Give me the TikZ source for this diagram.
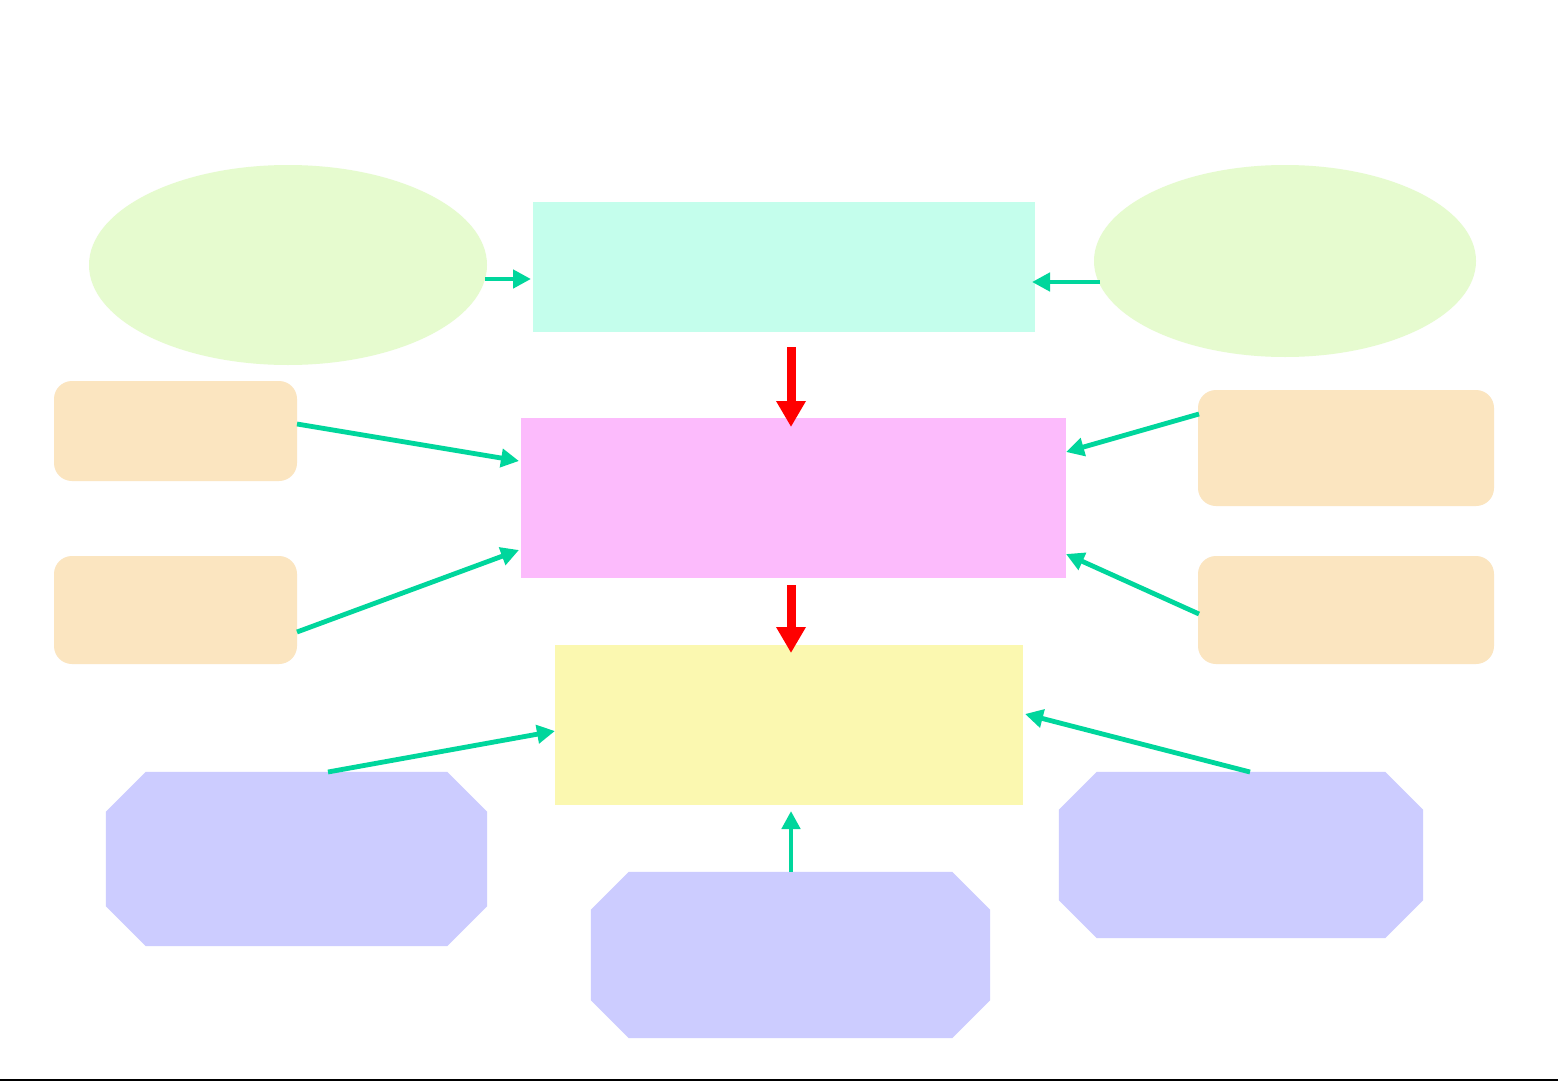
\documentclass[tikz,border=0pt]{standalone}
\usetikzlibrary{shapes.geometric,arrows.meta}
\definecolor{ellc}{HTML}{E6FBCF}
\definecolor{topc}{HTML}{C4FEEC}
\definecolor{midc}{HTML}{FCBBFC}
\definecolor{lowc}{HTML}{FBF8B0}
\definecolor{orc}{HTML}{FBE5C0}
\definecolor{octc}{HTML}{CCCCFF}
\definecolor{teal}{HTML}{00D69C}
\definecolor{redc}{HTML}{FF0000}
\tikzset{
  ell/.style={ellipse, fill=ellc, draw=none, inner sep=0pt},
  box/.style={rectangle, draw=none, inner sep=0pt},
  rbox/.style={rounded corners=18pt, fill=orc, draw=none, inner sep=0pt},
  octfill/.style={fill=octc, draw=none},
  conn/.style={draw=teal, line width=4.8pt, -{Triangle[length=18pt,width=18pt]}},
  main/.style={draw=redc, line width=9pt, -{Triangle[length=26pt,width=28pt]}},
}
\newcommand{\octpath}[2]{%
  \fill[octfill] ([xshift=#2]#1.north west) -- ([xshift=-#2]#1.north east)
    -- ([yshift=-#2]#1.north east) -- ([yshift=#2]#1.south east)
    -- ([xshift=-#2]#1.south east) -- ([xshift=#2]#1.south west)
    -- ([yshift=#2]#1.south west) -- ([yshift=-#2]#1.north west) -- cycle;}
\begin{document}
\begin{tikzpicture}[x=1pt,y=-1pt]
\useasboundingbox (0,0) rectangle (1561,1081);
\fill[white] (0,0) rectangle (1561,1081);
\draw[black, line width=1.5pt] (0,1080) -- (1558,1080);
% ellipses
\node[ell, minimum width=398pt, minimum height=200pt] (el) at (288,265) {};
\node[ell, minimum width=382pt, minimum height=192pt] (er) at (1285,261) {};
% main boxes
\node[box, fill=topc, minimum width=502pt, minimum height=130pt] (top) at (784,267) {};
\node[box, fill=midc, minimum width=545pt, minimum height=160pt] (mid) at (793.5,498) {};
\node[box, fill=lowc, minimum width=468pt, minimum height=160pt] (low) at (789,725) {};
% rounded boxes
\node[rbox, minimum width=243pt, minimum height=100pt] (l1) at (175.5,431) {};
\node[rbox, minimum width=243pt, minimum height=108pt] (l2) at (175.5,610) {};
\node[rbox, minimum width=296pt, minimum height=116pt] (r1) at (1346,448) {};
\node[rbox, minimum width=296pt, minimum height=108pt] (r2) at (1346,610) {};
% octagons
\node[box, minimum width=381pt, minimum height=174pt] (bl) at (296.5,859) {};
\node[box, minimum width=399pt, minimum height=166pt] (bm) at (790.5,955) {};
\node[box, minimum width=364pt, minimum height=166pt] (br) at (1241,855) {};
\octpath{bl}{40pt}
\octpath{bm}{38pt}
\octpath{br}{38pt}
% coordinates for arrow ends
\coordinate (a1s) at (485,279); \coordinate (a1e) at (531,279);
\coordinate (a2s) at (1100,282); \coordinate (a2e) at (1032,282);
\coordinate (m1s) at (791,347); \coordinate (m1e) at (791,427);
\coordinate (m2s) at (791,585); \coordinate (m2e) at (791,653);
\coordinate (b1s) at (297,424); \coordinate (b1e) at (519,461);
\coordinate (b2s) at (297,632); \coordinate (b2e) at (519,550);
\coordinate (b3s) at (1199,414); \coordinate (b3e) at (1066,452);
\coordinate (b4s) at (1199,614); \coordinate (b4e) at (1066,554);
\coordinate (c1s) at (328,772); \coordinate (c1e) at (555,731);
\coordinate (c2s) at (1250,772); \coordinate (c2e) at (1025,714);
\coordinate (c3s) at (791,872); \coordinate (c3e) at (791,811);
\draw[conn] (a1s) -- (a1e);
\draw[conn] (a2s) -- (a2e);
\draw[main] (m1s) -- (m1e);
\draw[main] (m2s) -- (m2e);
\draw[conn] (b1s) -- (b1e);
\draw[conn] (b2s) -- (b2e);
\draw[conn] (b3s) -- (b3e);
\draw[conn] (b4s) -- (b4e);
\draw[conn] (c1s) -- (c1e);
\draw[conn] (c2s) -- (c2e);
\draw[conn] (c3s) -- (c3e);
\end{tikzpicture}
\end{document}
